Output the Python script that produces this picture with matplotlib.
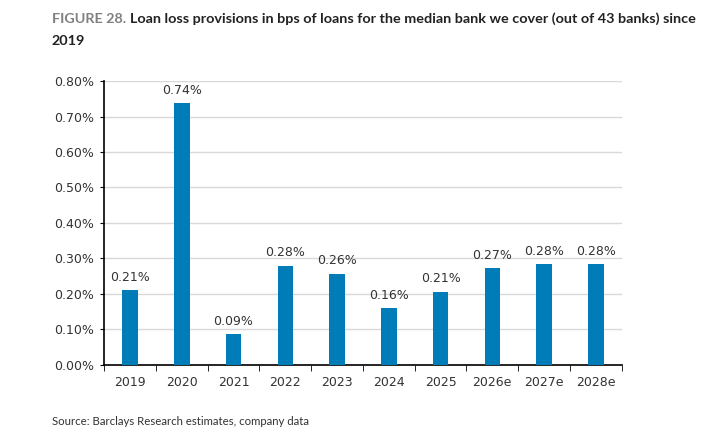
import matplotlib
matplotlib.use("Agg")
import matplotlib.pyplot as plt
from matplotlib.ticker import FuncFormatter, FixedLocator

# data (percent of loans)
years = ['2019', '2020', '2021', '2022', '2023', '2024', '2025', '2026e', '2027e', '2028e']
provisions = [0.211, 0.738, 0.087, 0.279, 0.257, 0.160, 0.206, 0.273, 0.283, 0.284]
yTicks = [0.0, 0.1, 0.2, 0.3, 0.4, 0.5, 0.6, 0.7, 0.8]

barColor = '#007DB8'
textColor = '#333333'

fig = plt.figure(figsize=(7.28, 4.38), dpi=100)
ax = fig.add_axes([0.143, 0.167, 0.711, 0.648])

x = range(len(years))
ax.bar(x, provisions, width=0.3, color=barColor, zorder=3)

# value labels above bars
for xi, v in zip(x, provisions):
	ax.text(xi, v + 0.018, f"{v:.2f}%", ha='center', va='bottom',
		fontsize=9, color=textColor, family='DejaVu Sans')

ax.set_ylim(0, 0.8)
ax.set_xlim(-0.5, len(years) - 0.5)
ax.set_yticks(yTicks)
ax.yaxis.set_major_formatter(FuncFormatter(lambda v, p: f"{v:.2f}%"))
ax.grid(axis='y', color='#D9D9D9', linewidth=1, zorder=0)

# x labels centred on bars, tick marks between categories
ax.set_xticks(list(x))
ax.set_xticklabels(years)
ax.tick_params(axis='x', which='major', length=0, pad=8)
ax.xaxis.set_minor_locator(FixedLocator([i + 0.5 for i in range(-1, len(years))]))
ax.tick_params(axis='x', which='minor', length=4, direction='out', color='black')
ax.tick_params(axis='y', length=3, direction='out', color='black', pad=4)

for lab in ax.get_xticklabels() + ax.get_yticklabels():
	lab.set_fontsize(9)
	lab.set_color(textColor)
	lab.set_family('DejaVu Sans')

for side in ['top', 'right']:
	ax.spines[side].set_visible(False)
ax.spines['left'].set_color('black')
ax.spines['bottom'].set_color('black')
ax.spines['left'].set_linewidth(1.2)
ax.spines['bottom'].set_linewidth(1.2)

# title: grey prefix, then the rest placed right after it
prefix = fig.text(0.071, 0.948, "FIGURE 28.", fontsize=10.35, color='#808080',
	fontweight='bold', family='Lato', ha='left', va='baseline')
renderer = fig.canvas.get_renderer()
bb = prefix.get_window_extent(renderer=renderer)
x1 = (bb.x1 + 4) / fig.bbox.width
fig.text(x1, 0.948,
	"Loan loss provisions in bps of loans for the median bank we cover (out of 43 banks) since",
	fontsize=10.35, color='#222222', fontweight='bold', family='Lato', ha='left', va='baseline')
fig.text(0.071, 0.898, "2019", fontsize=10.35, color='#222222', fontweight='bold',
	family='Lato', ha='left', va='baseline')

fig.text(0.071, 0.03, "Source: Barclays Research estimates, company data",
	fontsize=8.2, color=textColor, family='Lato', ha='left', va='baseline')

fig.savefig('out.png', dpi=100)
